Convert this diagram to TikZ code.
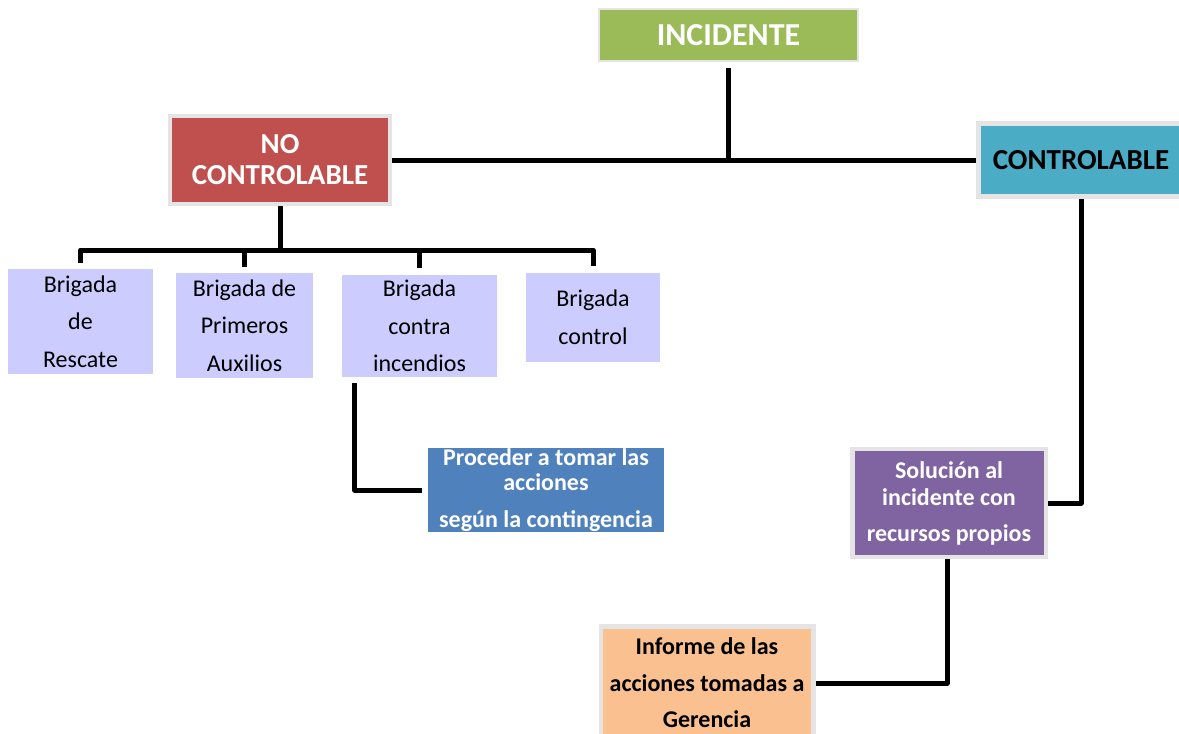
\documentclass[tikz,border=0pt]{standalone}
\usepackage{fontspec}
\setmainfont{Carlito}
\usetikzlibrary{backgrounds}
\definecolor{incgreen}{HTML}{9BBB59}
\definecolor{nocred}{HTML}{C0504D}
\definecolor{conteal}{HTML}{4BACC6}
\definecolor{brilav}{HTML}{CCCCFF}
\definecolor{actblue}{HTML}{4F81BD}
\definecolor{solpurple}{HTML}{8064A2}
\definecolor{infoorange}{HTML}{FAC090}
\definecolor{framegray}{HTML}{E4E4E4}
\begin{document}
\begin{tikzpicture}[x=1pt,y=-1pt,
  box/.style={rectangle, align=center, inner sep=0pt, draw=framegray, line width=4.5pt},
  brig/.style={rectangle, align=center, inner sep=0pt, fill=brilav,
    font=\fontsize{24}{37.5}\selectfont},
  link/.style={line width=5pt, black, line join=round}]
\useasboundingbox (0,0) rectangle (1179,734);

% level 1
\node[box, line width=1.5pt, fill=incgreen, text=white, minimum width=259, minimum height=52,
  font=\fontsize{32}{36}\selectfont\bfseries] (inc) at (728.5,35) {INCIDENTE};

% level 2
\node[box, fill=nocred, text=white, minimum width=220, minimum height=88,
  font=\fontsize{29}{31}\selectfont\bfseries] (noc) at (280,160) {NO\\CONTROLABLE};
\node[box, fill=conteal, text=black, minimum width=205, minimum height=73,
  font=\fontsize{29}{31}\selectfont\bfseries] (con) at (1081,160) {CONTROLABLE};

% brigades
\node[brig, minimum width=145, minimum height=105] (resc) at (80.5,321.5) {Brigada\\de\\Rescate};
\node[brig, minimum width=137, minimum height=105] (prim) at (244.5,325.5) {Brigada de\\Primeros\\Auxilios};
\node[brig, minimum width=155, minimum height=102] (fire) at (419.5,326) {Brigada\\contra\\incendios};
\node[brig, minimum width=134, minimum height=89] (ctrl) at (593,317.5) {Brigada\\control};

% actions
\node[rectangle, align=center, inner sep=0pt, fill=actblue, text=white,
  minimum width=236, minimum height=84, font=\fontsize{24}{25}\selectfont\bfseries]
  (act) at (546,490) {Proceder a tomar las\\acciones\\[12pt]según la contingencia};
\node[box, fill=solpurple, text=white, minimum width=193.5, minimum height=108,
  font=\fontsize{24}{27}\selectfont\bfseries]
  (sol) at (949,503) {Solución al\\incidente con\\[9pt]recursos propios};
\node[box, fill=infoorange, text=black, minimum width=212.5, minimum height=113,
  font=\fontsize{24}{36.5}\selectfont\bfseries]
  (inf) at (707,683) {Informe de las\\acciones tomadas a\\Gerencia};

\coordinate (bus) at (280,250);

\begin{scope}[on background layer]
  \draw[link, shorten <=6pt] (inc.south) -- (inc.south |- noc.east);
  \draw[link] (noc.east) -- (con.west);
  \draw[link] (noc.south) -- (noc.south |- bus);
  \draw[link, shorten <=6pt, shorten >=7pt] (resc.north) -- (resc.north |- bus)
    -- (ctrl.north |- bus) -- (ctrl.north);
  \draw[link, shorten <=6pt] (prim.north) -- (prim.north |- bus);
  \draw[link, shorten <=7pt] (fire.north) -- (fire.north |- bus);
  \draw[link, shorten <=6pt, shorten >=6pt] ([xshift=13pt]fire.south west)
    -- ([xshift=13pt]fire.south west |- act.west) -- (act.west);
  \draw[link] (con.south) -- (con.south |- sol.east) -- (sol.east);
  \draw[link] ([xshift=-2pt]sol.south) -- ([xshift=-2pt]sol.south |- inf.east) -- (inf.east);
\end{scope}
\end{tikzpicture}
\end{document}
